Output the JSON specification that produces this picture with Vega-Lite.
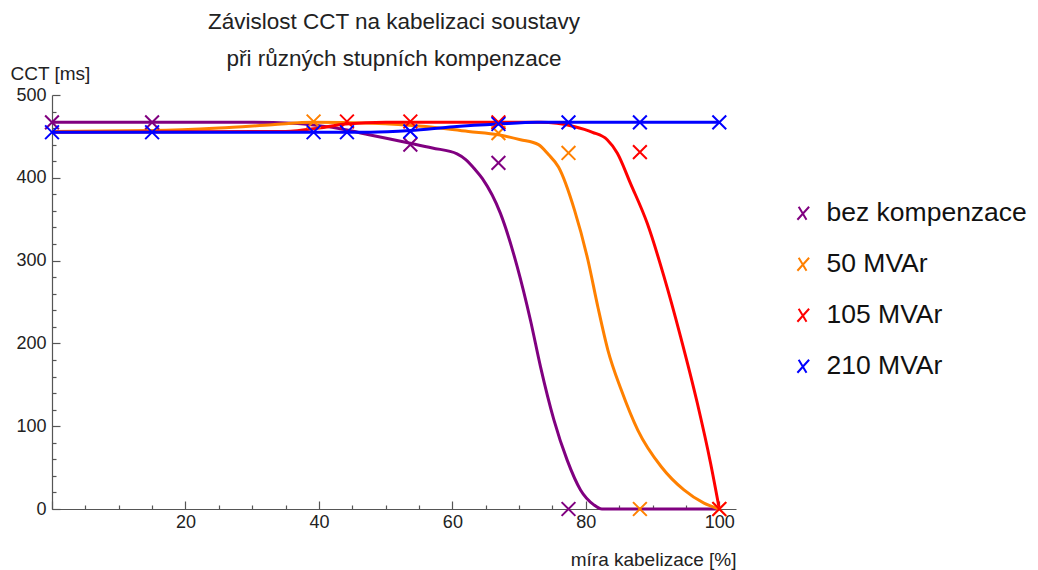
{
  "$schema": "https://vega.github.io/schema/vega-lite/v6.json",
  "autosize": {"type": "none"},
  "padding": {"left": 52, "top": 95, "right": 302, "bottom": 61},
  "width": 684,
  "height": 414,
  "background": "white",
  "config": {
    "view": {"stroke": null},
    "font": "Liberation Sans",
    "axis": {"grid": false, "domainColor": "#555", "tickColor": "#555", "labelColor": "#222", "titleColor": "#222", "labelFontSize": 18, "titleFontSize": 19, "titleFontWeight": "normal", "labelFont": "Liberation Sans", "titleFont": "Liberation Sans", "labelOverlap": false, "labelFlush": false, "domainWidth": 1.2, "tickWidth": 1.2}
  },
  "title": {
    "text": ["Závislost CCT na kabelizaci soustavy", "při různých stupních kompenzace"],
    "fontSize": 22.5, "fontWeight": "normal", "font": "Liberation Sans", "color": "#222", "lineHeight": 37, "anchor": "middle", "offset": -6
  },
  "data": {"values": [
    {"series": "bez kompenzace", "kind": "fit", "x": 0, "y": 467},
    {"series": "bez kompenzace", "kind": "fit", "x": 30, "y": 467},
    {"series": "bez kompenzace", "kind": "fit", "x": 36, "y": 466},
    {"series": "bez kompenzace", "kind": "fit", "x": 40, "y": 463},
    {"series": "bez kompenzace", "kind": "fit", "x": 44, "y": 458},
    {"series": "bez kompenzace", "kind": "fit", "x": 47.5, "y": 452},
    {"series": "bez kompenzace", "kind": "fit", "x": 53.5, "y": 442},
    {"series": "bez kompenzace", "kind": "fit", "x": 57, "y": 436},
    {"series": "bez kompenzace", "kind": "fit", "x": 60.7, "y": 429},
    {"series": "bez kompenzace", "kind": "fit", "x": 62, "y": 422},
    {"series": "bez kompenzace", "kind": "fit", "x": 63.3, "y": 411},
    {"series": "bez kompenzace", "kind": "fit", "x": 64.5, "y": 399},
    {"series": "bez kompenzace", "kind": "fit", "x": 67.2, "y": 357},
    {"series": "bez kompenzace", "kind": "fit", "x": 69.7, "y": 293},
    {"series": "bez kompenzace", "kind": "fit", "x": 71.7, "y": 228},
    {"series": "bez kompenzace", "kind": "fit", "x": 73.2, "y": 172},
    {"series": "bez kompenzace", "kind": "fit", "x": 75.2, "y": 108},
    {"series": "bez kompenzace", "kind": "fit", "x": 77.2, "y": 59},
    {"series": "bez kompenzace", "kind": "fit", "x": 79.2, "y": 23},
    {"series": "bez kompenzace", "kind": "fit", "x": 81.2, "y": 5},
    {"series": "bez kompenzace", "kind": "fit", "x": 82.4, "y": 0},
    {"series": "bez kompenzace", "kind": "fit", "x": 100, "y": 0},
    {"series": "50 MVAr", "kind": "fit", "x": 0, "y": 456},
    {"series": "50 MVAr", "kind": "fit", "x": 15, "y": 457},
    {"series": "50 MVAr", "kind": "fit", "x": 25, "y": 460},
    {"series": "50 MVAr", "kind": "fit", "x": 33, "y": 464},
    {"series": "50 MVAr", "kind": "fit", "x": 39.2, "y": 467},
    {"series": "50 MVAr", "kind": "fit", "x": 48, "y": 466},
    {"series": "50 MVAr", "kind": "fit", "x": 56, "y": 462},
    {"series": "50 MVAr", "kind": "fit", "x": 62.4, "y": 456},
    {"series": "50 MVAr", "kind": "fit", "x": 66.9, "y": 452},
    {"series": "50 MVAr", "kind": "fit", "x": 70.2, "y": 446},
    {"series": "50 MVAr", "kind": "fit", "x": 72.9, "y": 440},
    {"series": "50 MVAr", "kind": "fit", "x": 74.4, "y": 428},
    {"series": "50 MVAr", "kind": "fit", "x": 75.9, "y": 413},
    {"series": "50 MVAr", "kind": "fit", "x": 78.3, "y": 361},
    {"series": "50 MVAr", "kind": "fit", "x": 80.3, "y": 301},
    {"series": "50 MVAr", "kind": "fit", "x": 81.8, "y": 244},
    {"series": "50 MVAr", "kind": "fit", "x": 83.3, "y": 192},
    {"series": "50 MVAr", "kind": "fit", "x": 85.3, "y": 144},
    {"series": "50 MVAr", "kind": "fit", "x": 87.8, "y": 95},
    {"series": "50 MVAr", "kind": "fit", "x": 91.3, "y": 51},
    {"series": "50 MVAr", "kind": "fit", "x": 94.7, "y": 23},
    {"series": "50 MVAr", "kind": "fit", "x": 97.7, "y": 7},
    {"series": "50 MVAr", "kind": "fit", "x": 100, "y": 0},
    {"series": "105 MVAr", "kind": "fit", "x": 0, "y": 455},
    {"series": "105 MVAr", "kind": "fit", "x": 35, "y": 456},
    {"series": "105 MVAr", "kind": "fit", "x": 40, "y": 460},
    {"series": "105 MVAr", "kind": "fit", "x": 44, "y": 465},
    {"series": "105 MVAr", "kind": "fit", "x": 50, "y": 467},
    {"series": "105 MVAr", "kind": "fit", "x": 73.2, "y": 467},
    {"series": "105 MVAr", "kind": "fit", "x": 78.2, "y": 462},
    {"series": "105 MVAr", "kind": "fit", "x": 81, "y": 455},
    {"series": "105 MVAr", "kind": "fit", "x": 83.2, "y": 446},
    {"series": "105 MVAr", "kind": "fit", "x": 84.7, "y": 430},
    {"series": "105 MVAr", "kind": "fit", "x": 86.7, "y": 393},
    {"series": "105 MVAr", "kind": "fit", "x": 89.2, "y": 345},
    {"series": "105 MVAr", "kind": "fit", "x": 91.7, "y": 281},
    {"series": "105 MVAr", "kind": "fit", "x": 94.2, "y": 208},
    {"series": "105 MVAr", "kind": "fit", "x": 96.7, "y": 128},
    {"series": "105 MVAr", "kind": "fit", "x": 98.7, "y": 55},
    {"series": "105 MVAr", "kind": "fit", "x": 100, "y": 0},
    {"series": "210 MVAr", "kind": "fit", "x": 0, "y": 455},
    {"series": "210 MVAr", "kind": "fit", "x": 45, "y": 455},
    {"series": "210 MVAr", "kind": "fit", "x": 47.7, "y": 455},
    {"series": "210 MVAr", "kind": "fit", "x": 53.7, "y": 457},
    {"series": "210 MVAr", "kind": "fit", "x": 60.2, "y": 461.7},
    {"series": "210 MVAr", "kind": "fit", "x": 66.9, "y": 465},
    {"series": "210 MVAr", "kind": "fit", "x": 72.7, "y": 467},
    {"series": "210 MVAr", "kind": "fit", "x": 100, "y": 467},
    {"series": "bez kompenzace", "kind": "point", "x": 0, "y": 467},
    {"series": "bez kompenzace", "kind": "point", "x": 15, "y": 467},
    {"series": "bez kompenzace", "kind": "point", "x": 53.7, "y": 440},
    {"series": "bez kompenzace", "kind": "point", "x": 66.9, "y": 418},
    {"series": "bez kompenzace", "kind": "point", "x": 77.4, "y": 0},
    {"series": "50 MVAr", "kind": "point", "x": 39.2, "y": 468},
    {"series": "50 MVAr", "kind": "point", "x": 66.9, "y": 454},
    {"series": "50 MVAr", "kind": "point", "x": 77.4, "y": 430},
    {"series": "50 MVAr", "kind": "point", "x": 88.1, "y": 0},
    {"series": "50 MVAr", "kind": "point", "x": 100, "y": 0},
    {"series": "105 MVAr", "kind": "point", "x": 44.2, "y": 468},
    {"series": "105 MVAr", "kind": "point", "x": 53.7, "y": 468},
    {"series": "105 MVAr", "kind": "point", "x": 66.9, "y": 467},
    {"series": "105 MVAr", "kind": "point", "x": 88.1, "y": 431},
    {"series": "105 MVAr", "kind": "point", "x": 100, "y": 0},
    {"series": "210 MVAr", "kind": "point", "x": 0, "y": 455},
    {"series": "210 MVAr", "kind": "point", "x": 15, "y": 455},
    {"series": "210 MVAr", "kind": "point", "x": 39.2, "y": 455},
    {"series": "210 MVAr", "kind": "point", "x": 44.2, "y": 455},
    {"series": "210 MVAr", "kind": "point", "x": 53.7, "y": 456},
    {"series": "210 MVAr", "kind": "point", "x": 66.9, "y": 465},
    {"series": "210 MVAr", "kind": "point", "x": 77.4, "y": 467},
    {"series": "210 MVAr", "kind": "point", "x": 88.1, "y": 467},
    {"series": "210 MVAr", "kind": "point", "x": 100, "y": 467}
  ]},
  "encoding": {
    "x": {
      "field": "x", "type": "quantitative",
      "scale": {"domain": [0, 102.5], "nice": false, "zero": false},
      "axis": {
        "values": [0, 5, 10, 15, 20, 25, 30, 35, 40, 45, 50, 55, 60, 65, 70, 75, 80, 85, 90, 95, 100],
        "labelExpr": "datum.value % 20 === 0 && datum.value > 0 ? datum.label : ''",
        "tickSize": {"condition": {"test": "datum.value % 20 === 0", "value": -8}, "value": -4},
        "labelPadding": 12,
        "title": "míra kabelizace [%]",
        "titleAnchor": "end", "titleAlign": "right", "titleX": 684, "titleY": 50, "titleBaseline": "middle"
      }
    },
    "y": {
      "field": "y", "type": "quantitative",
      "scale": {"domain": [0, 500], "nice": false},
      "axis": {
        "values": [0, 20, 40, 60, 80, 100, 120, 140, 160, 180, 200, 220, 240, 260, 280, 300, 320, 340, 360, 380, 400, 420, 440, 460, 480, 500],
        "labelExpr": "datum.value % 100 === 0 ? datum.label : ''",
        "tickSize": {"condition": {"test": "datum.value % 100 === 0", "value": -8}, "value": -4},
        "labelPadding": 14,
        "title": "CCT [ms]",
        "titleAngle": 0, "titleAlign": "left", "titleX": -42, "titleY": -22, "titleBaseline": "middle"
      }
    },
    "color": {
      "field": "series", "type": "nominal",
      "scale": {"domain": ["bez kompenzace", "50 MVAr", "105 MVAr", "210 MVAr"], "range": ["#800080", "#ff8000", "#ff0000", "#0000ff"]},
      "legend": {
        "title": null, "orient": "none", "legendX": 738, "legendY": 105,
        "symbolType": "M-0.7,-1L0.5,1M0.9,-1L-0.9,1",
        "symbolSize": 170, "symbolStrokeWidth": 2, "symbolFillColor": "transparent",
        "labelFontSize": 26.5, "labelFont": "Liberation Sans", "labelColor": "#111", "labelLimit": 400,
        "rowPadding": 24, "labelOffset": 10
      }
    }
  },
  "layer": [
    {
      "transform": [{"filter": "datum.kind === 'fit'"}],
      "mark": {"type": "line", "strokeWidth": 3, "interpolate": "monotone"},
      "encoding": {"order": {"field": "x", "type": "quantitative"}}
    },
    {
      "transform": [{"filter": "datum.kind === 'point'"}],
      "mark": {"type": "point", "shape": "M-1,-1L1,1M1,-1L-1,1", "filled": false, "size": 190, "strokeWidth": 2, "opacity": 1}
    }
  ]
}
